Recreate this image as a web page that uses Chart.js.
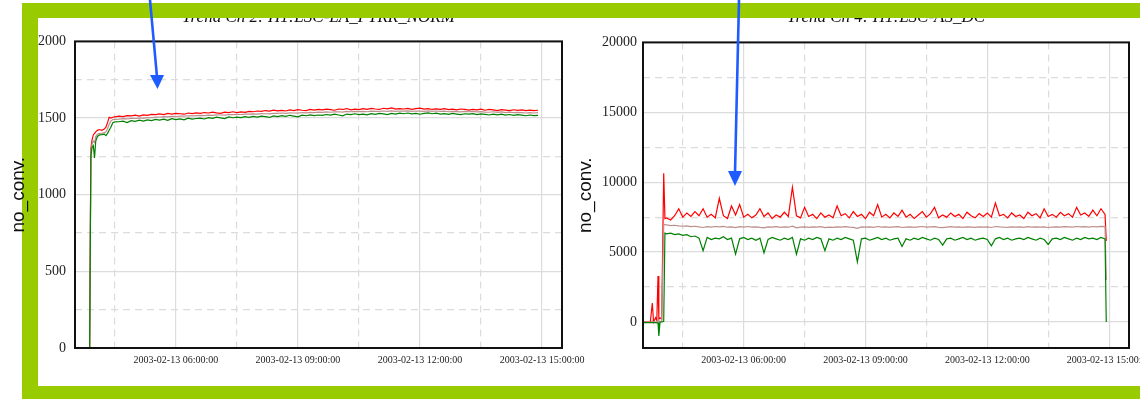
<!DOCTYPE html>
<html>
<head>
<meta charset="utf-8">
<script src="https://cdn.jsdelivr.net/npm/chart.js@4.4.1/dist/chart.umd.min.js"></script>
<style>
  html, body { margin: 0; padding: 0; background: #fff; }
  body { position: relative; width: 1140px; height: 399px; overflow: hidden; }
  .frame { position: absolute; left: 22px; top: 3px; width: 1200px; height: 368px;
    border-left: 16px solid #99cc00; border-top: 15px solid #99cc00; border-bottom: 20px solid #99cc00; z-index: 1; }
  .band { position: absolute; left: 22px; top: 3px; width: 1130px; height: 15px; background: #99cc00; z-index: 3; }
  canvas { position: absolute; top: 0; z-index: 2; }
  #ch2 { left: 0; }
  #ch4 { left: 570px; }
  svg { position: absolute; left: 0; top: 0; z-index: 4; }
</style>
</head>
<body>
<div class="frame"></div>
<canvas id="ch2" width="610" height="399"></canvas>
<canvas id="ch4" width="570" height="399"></canvas>
<div class="band"></div>
<svg width="1140" height="399">
  <line x1="150" y1="0" x2="157" y2="77" stroke="#1f5cff" stroke-width="2.6"/>
  <polygon points="150,75 164,75 157.5,89" fill="#1f5cff"/>
  <line x1="739" y1="0" x2="735" y2="173" stroke="#1f5cff" stroke-width="2.6"/>
  <polygon points="728,171 742,171 735,186" fill="#1f5cff"/>
</svg>
<script>
// hours of 2003-02-13
const xLabelHours = [6, 9, 12, 15];
const xGridHours = [4.5, 6, 7.5, 9, 10.5, 12, 13.5, 15];

// Ch 2: H1:LSC-LA_PTRR_NORM
const ch2Title = "Trend Ch 2: H1:LSC-LA_PTRR_NORM";
const ch2YGrid = [0, 250, 500, 750, 1000, 1250, 1500, 1750, 2000];
const ch2Time = [3.88, 3.91, 3.94, 3.97, 4.0, 4.03, 4.07, 4.12, 4.18, 4.24, 4.28, 4.32, 4.36, 4.4, 4.45, 4.5,
  4.6, 4.7, 4.8, 4.9, 5.0, 5.1, 5.2, 5.3, 5.4, 5.5,
  5.6, 5.7, 5.8, 5.9, 6.0, 6.1, 6.2, 6.3, 6.4, 6.5,
  6.6, 6.7, 6.8, 6.9, 7.0, 7.1, 7.2, 7.3, 7.4, 7.5,
  7.6, 7.7, 7.8, 7.9, 8.0, 8.1, 8.2, 8.3, 8.4, 8.5,
  8.6, 8.7, 8.8, 8.9, 9.0, 9.1, 9.2, 9.3, 9.4, 9.5,
  9.6, 9.7, 9.8, 9.9, 10.0, 10.1, 10.2, 10.3, 10.4, 10.5,
  10.6, 10.7, 10.8, 10.9, 11.0, 11.1, 11.2, 11.3, 11.4, 11.5,
  11.6, 11.7, 11.8, 11.9, 12.0, 12.1, 12.2, 12.3, 12.4, 12.5,
  12.6, 12.7, 12.8, 12.9, 13.0, 13.1, 13.2, 13.3, 13.4, 13.5,
  13.6, 13.7, 13.8, 13.9, 14.0, 14.1, 14.2, 14.3, 14.4, 14.5,
  14.6, 14.7, 14.8, 14.9];
const ch2Max = [0, 1300, 1360, 1390, 1400, 1410, 1420, 1425, 1420, 1428, 1440, 1470, 1505, 1500, 1505, 1508,
  1512, 1509, 1516, 1514, 1519, 1513, 1521, 1518, 1524, 1522,
  1527, 1523, 1530, 1526, 1531, 1528, 1525, 1533, 1529, 1534,
  1530, 1536, 1533, 1538, 1534, 1531, 1539, 1535, 1541, 1536,
  1540, 1537, 1544, 1541, 1546, 1543, 1549, 1545, 1551, 1547,
  1550, 1546, 1553, 1549, 1555, 1551, 1548, 1556, 1552, 1557,
  1553, 1558, 1555, 1551, 1559, 1556, 1562, 1554, 1558, 1555,
  1561, 1557, 1563, 1559, 1556, 1564, 1560, 1566, 1558, 1562,
  1559, 1563, 1557, 1561, 1565, 1558, 1562, 1556, 1560, 1557,
  1561, 1555, 1558, 1553, 1559, 1556, 1552, 1557, 1554, 1558,
  1551, 1556, 1553, 1549, 1555, 1552, 1548, 1554, 1550, 1553,
  1549, 1552, 1548, 1551];
const ch2Mean = [0, 1280, 1330, 1350, 1340, 1380, 1395, 1400, 1402, 1405, 1410, 1430, 1460, 1480, 1490, 1492,
  1493, 1496, 1494, 1498, 1497, 1500, 1499, 1503, 1502, 1506,
  1507, 1509, 1508, 1511, 1510, 1513, 1512, 1515, 1514, 1516,
  1517, 1516, 1519, 1518, 1521, 1520, 1519, 1523, 1522, 1524,
  1523, 1525, 1525, 1527, 1526, 1529, 1528, 1527, 1531, 1530,
  1533, 1531, 1534, 1533, 1532, 1536, 1534, 1537, 1536, 1538,
  1537, 1540, 1538, 1540, 1541, 1539, 1543, 1541, 1544, 1542,
  1543, 1541, 1545, 1543, 1544, 1546, 1543, 1547, 1544, 1546,
  1545, 1547, 1544, 1546, 1545, 1544, 1547, 1543, 1546, 1543,
  1545, 1541, 1544, 1542, 1540, 1543, 1541, 1543, 1540, 1542,
  1539, 1538, 1541, 1537, 1540, 1536, 1538, 1535, 1537, 1536,
  1533, 1536, 1533, 1535];
const ch2Min = [0, 1250, 1310, 1320, 1240, 1350, 1380, 1390, 1392, 1395, 1385, 1400, 1420, 1440, 1470, 1475,
  1476, 1480, 1471, 1483, 1478, 1486, 1480, 1488, 1483, 1491,
  1487, 1493, 1485, 1496, 1490, 1494, 1488, 1499, 1493, 1497,
  1500, 1494, 1503, 1498, 1506, 1501, 1497, 1508, 1502, 1506,
  1503, 1509, 1505, 1511, 1506, 1513, 1509, 1504, 1514, 1510,
  1516, 1511, 1518, 1513, 1508, 1519, 1515, 1521, 1516, 1520,
  1517, 1523, 1519, 1525, 1520, 1514, 1526, 1522, 1528, 1523,
  1526, 1521, 1529, 1524, 1531, 1527, 1522, 1530, 1526, 1532,
  1528, 1533, 1527, 1531, 1525, 1530, 1534, 1528, 1532, 1526,
  1529, 1524, 1530, 1526, 1522, 1528, 1525, 1529, 1523, 1527,
  1524, 1520, 1526, 1521, 1525, 1519, 1523, 1517, 1522, 1519,
  1515, 1520, 1516, 1518];

// Ch 4: H1:LSC-AS_DC
const ch4Title = "Trend Ch 4: H1:LSC-AS_DC";
const ch4YGrid = [0, 2500, 5000, 7500, 10000, 12500, 15000, 17500, 20000];
const ch4Time = [3.52, 3.7, 3.75, 3.78, 3.83, 3.86, 3.89, 3.91, 3.94, 3.98, 4.03, 4.06,
  4.1, 4.2, 4.3, 4.4, 4.5, 4.6, 4.7, 4.8, 4.9, 5.0,
  5.1, 5.2, 5.3, 5.4, 5.5, 5.6, 5.7, 5.8, 5.9, 6.0,
  6.1, 6.2, 6.3, 6.4, 6.5, 6.6, 6.7, 6.8, 6.9, 7.0,
  7.1, 7.2, 7.3, 7.4, 7.5, 7.6, 7.7, 7.8, 7.9, 8.0,
  8.1, 8.2, 8.3, 8.4, 8.5, 8.6, 8.7, 8.8, 8.9, 9.0,
  9.1, 9.2, 9.3, 9.4, 9.5, 9.6, 9.7, 9.8, 9.9, 10.0,
  10.1, 10.2, 10.3, 10.4, 10.5, 10.6, 10.7, 10.8, 10.9, 11.0,
  11.1, 11.2, 11.3, 11.4, 11.5, 11.6, 11.7, 11.8, 11.9, 12.0,
  12.1, 12.2, 12.3, 12.4, 12.5, 12.6, 12.7, 12.8, 12.9, 13.0,
  13.1, 13.2, 13.3, 13.4, 13.5, 13.6, 13.7, 13.8, 13.9, 14.0,
  14.1, 14.2, 14.3, 14.4, 14.5, 14.6, 14.7, 14.8, 14.9, 14.93];
const ch4Max = [0, 0, 1360, 0, 300, 100, 3290, 200, 300, 200, 10640, 7400,
  7450, 7300, 7600, 8100, 7500, 7800, 7550, 7900, 7600, 8100,
  7500, 7700, 7450, 8850, 7600, 7400, 8300, 7650, 8400, 7500,
  7700, 7450, 7650, 8100, 7550, 7800, 7400, 7650, 7500, 7850,
  7550, 9640, 7600, 7450, 8200, 7550, 7700, 7400, 7800, 7500,
  7650, 7450, 8300, 7600, 7750, 7450, 7900, 7550, 7700, 7400,
  7850, 7600, 8400, 7500, 7700, 7450, 7800, 7550, 8000, 7500,
  7700, 7400, 7650, 7900, 7500, 7750, 8200, 7450, 7650, 7500,
  7800, 7550, 7700, 7400, 7850, 7600, 7450, 7750, 7550, 7800,
  7500, 8500, 7600, 7700, 7450, 7800, 7550, 7650, 7400, 7850,
  7600, 7750, 7450, 8100, 7550, 7700, 7500, 7850, 7600, 7750,
  7500, 8200, 7650, 7800, 7550, 8000, 7600, 8100, 7700, 5800];
const ch4Mean = [-30, -30, 100, -20, 0, -10, 200, 0, 50, 50, 6900, 6980,
  6950, 6900, 6920, 6880, 6850, 6870, 6820, 6850, 6800, 6760,
  6820, 6790, 6830, 6800, 6840, 6780, 6810, 6750, 6820, 6790,
  6830, 6780, 6810, 6770, 6740, 6800, 6780, 6820, 6770, 6810,
  6780, 6850, 6740, 6790, 6810, 6770, 6800, 6780, 6820, 6750,
  6790, 6770, 6810, 6780, 6820, 6790, 6770, 6700, 6800, 6780,
  6810, 6770, 6830, 6790, 6810, 6770, 6800, 6820, 6760, 6790,
  6810, 6770, 6800, 6830, 6780, 6800, 6820, 6770, 6750, 6790,
  6820, 6780, 6800, 6770, 6810, 6790, 6770, 6800, 6780, 6810,
  6760, 6830, 6800, 6780, 6770, 6810, 6790, 6800, 6770, 6820,
  6790, 6810, 6780, 6800, 6760, 6790, 6810, 6780, 6820, 6800,
  6780, 6830, 6800, 6820, 6790, 6830, 6810, 6840, 6820, 3000];
const ch4Min = [-50, -50, -50, -40, -40, -60, -60, -1000, 0, 0, 50, 6350,
  6300, 6350, 6250, 6300, 6200, 6250, 6100, 6150, 6000, 5100,
  6050, 5900, 6000, 5950, 6100, 5900, 6000, 4850, 5950, 6050,
  5900, 6000, 5850, 6000, 4950, 5900, 6050, 5950, 5850, 6000,
  5900, 6050, 4850, 5950, 5850, 6000, 5900, 6050, 5950, 5100,
  5950, 5850, 6000, 5900, 6050, 5950, 5850, 4300, 5950, 6000,
  5850, 5950, 6050, 5900, 6000, 5850, 5950, 6000, 5400, 5950,
  5850, 6000, 5900, 6050, 5950, 5850, 6000, 5900, 5500, 5950,
  6000, 5850, 5950, 6050, 5900, 6000, 5850, 5950, 6000, 5900,
  5450, 5950, 6050, 5900, 6000, 5850, 5950, 6000, 5900, 6050,
  5950, 5850, 6000, 5900, 5550, 5950, 6000, 5900, 6050, 5950,
  5850, 6000, 5900, 6050, 5950, 6000, 5900, 6050, 5950, 0];

const pts = (ts, vs) => ts.map((t, i) => ({ x: t, y: vs[i] }));
const hourLabel = (h) => "2003-02-13 " + String(h).padStart(2, "0") + ":00:00";

// black frame round the plot area
const boxPlugin = {
  id: "box",
  afterDatasetsDraw(chart) {
    const { ctx, chartArea: a } = chart;
    ctx.save();
    ctx.strokeStyle = "#111";
    ctx.lineWidth = 2;
    ctx.strokeRect(a.left, a.top, a.right - a.left, a.bottom - a.top);
    ctx.restore();
  },
};

function trendChart(id, cfg) {
  const lineSet = (label, data, color) => ({
    label, data, borderColor: color, borderWidth: 1.2,
    pointRadius: 0, tension: 0, fill: false,
  });
  return new Chart(document.getElementById(id), {
    type: "line",
    data: {
      datasets: [
        lineSet("min", pts(cfg.time, cfg.min), "#008000"),
        lineSet("mean", pts(cfg.time, cfg.mean), "#bc8f8f"),
        lineSet("max", pts(cfg.time, cfg.max), "#ff0000"),
      ],
    },
    options: {
      responsive: false,
      animation: false,
      devicePixelRatio: 1,
      layout: { autoPadding: false, padding: { left: 0, right: cfg.padRight, top: 0, bottom: 0 } },
      scales: {
        x: {
          type: "linear",
          min: 3.52,
          max: 15.49,
          afterBuildTicks: (s) => { s.ticks = xGridHours.map((v) => ({ value: v })); },
          // labels may run past the canvas edge, as in the original
          afterFit: (s) => { s.height = 51; s.paddingLeft = 0; s.paddingRight = 0; },
          grid: { color: "#dcdcdc", lineWidth: 1.2, drawTicks: false },
          border: { display: false, dash: (c) => (c.tick && !xLabelHours.includes(c.tick.value) ? [7, 5] : []) },
          ticks: {
            autoSkip: false, maxRotation: 0, minRotation: 0, padding: 6, color: "#222",
            font: { family: "Liberation Serif", size: 10 },
            callback: (v) => (xLabelHours.includes(v) ? hourLabel(v) : ""),
          },
        },
        y: {
          type: "linear",
          min: cfg.yMin,
          max: cfg.yMax,
          afterBuildTicks: (s) => { s.ticks = cfg.yGrid.map((v) => ({ value: v })); },
          afterFit: (s) => { s.width = cfg.yWidth; s.paddingTop = 0; s.paddingBottom = 0; },
          grid: { color: "#dcdcdc", lineWidth: 1.2, drawTicks: false },
          border: { display: false, dash: (c) => (c.tick && c.tick.value % cfg.yLabelStep !== 0 ? [7, 5] : []) },
          ticks: {
            padding: cfg.yPad, color: "#222",
            font: { family: "Liberation Serif", size: 14 },
            callback: (v) => (v % cfg.yLabelStep === 0 ? String(v) : ""),
          },
          title: {
            display: true, text: "no_conv.", color: "#111",
            font: { family: "Liberation Sans", size: 19 },
            padding: { top: cfg.yTitlePad, bottom: 0 },
          },
        },
      },
      plugins: {
        legend: { display: false },
        tooltip: { enabled: false },
        title: {
          display: true, text: cfg.title, fullSize: false, color: "#111",
          font: { family: "Liberation Serif", size: 17, style: "italic", weight: "normal" },
          padding: { top: 7.5, bottom: cfg.titleBottom },
        },
      },
    },
    plugins: [boxPlugin],
  });
}

trendChart("ch2", {
  title: ch2Title, time: ch2Time, max: ch2Max, mean: ch2Mean, min: ch2Min,
  yMin: 0, yMax: 2000, yGrid: ch2YGrid, yLabelStep: 500,
  yWidth: 75, yPad: 9, yTitlePad: 7, padRight: 48, titleBottom: 13.5,
});

trendChart("ch4", {
  title: ch4Title, time: ch4Time, max: ch4Max, mean: ch4Mean, min: ch4Min,
  yMin: -1860, yMax: 20000, yGrid: ch4YGrid, yLabelStep: 5000,
  yWidth: 73, yPad: 6, yTitlePad: 4, padRight: 11, titleBottom: 14.5,
});
</script>
</body>
</html>
